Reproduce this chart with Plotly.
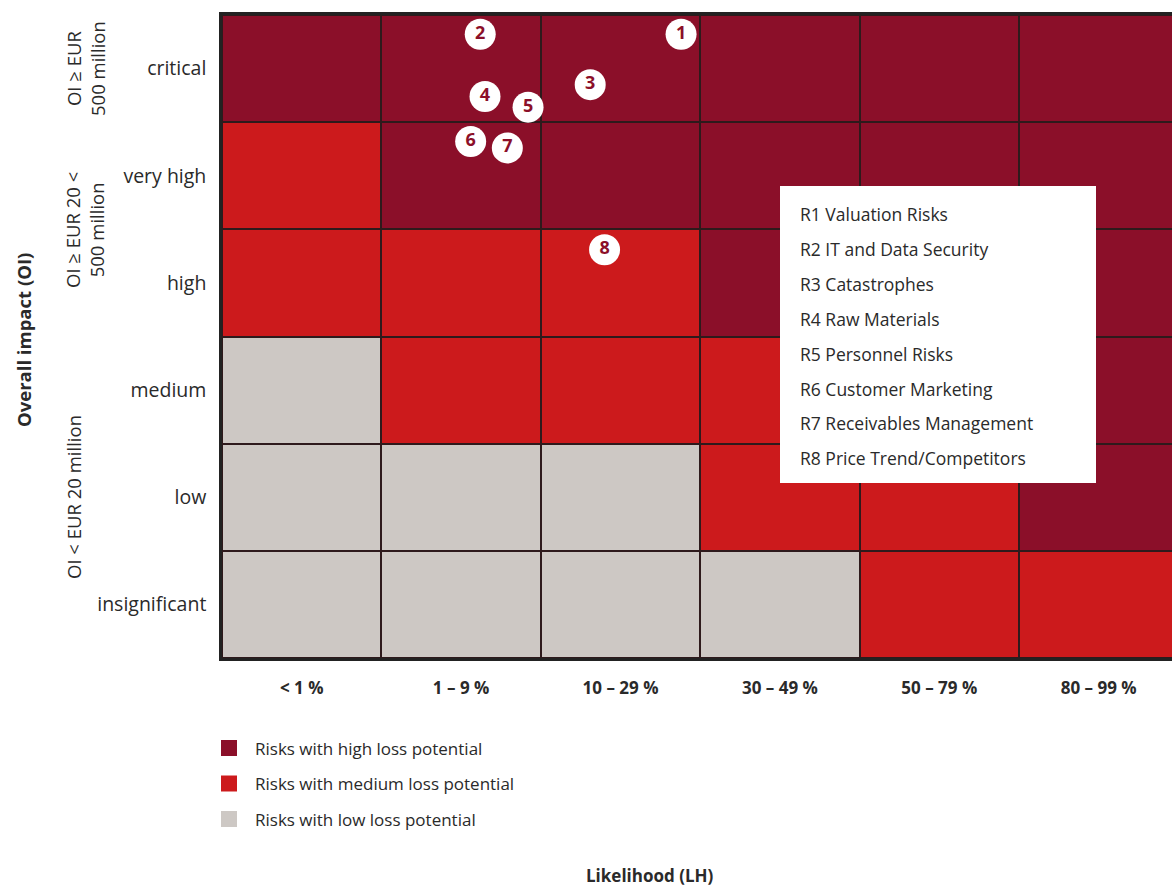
import plotly.graph_objects as go

# ---- data ---------------------------------------------------------------
likelihood_labels = ["< 1 %", "1 – 9 %", "10 – 29 %", "30 – 49 %", "50 – 79 %", "80 – 99 %"]
impact_labels = ["insignificant", "low", "medium", "high", "very high", "critical"]

# loss-potential class per cell (rows: insignificant -> critical), 0=low, 1=medium, 2=high
loss_class = [
    [0, 0, 0, 0, 1, 1],
    [0, 0, 0, 1, 1, 2],
    [0, 1, 1, 1, 2, 2],
    [1, 1, 1, 2, 2, 2],
    [1, 2, 2, 2, 2, 2],
    [2, 2, 2, 2, 2, 2],
]

risk_ids = ["1", "2", "3", "4", "5", "6", "7", "8"]
risk_lh = [2.38, 1.12, 1.81, 1.15, 1.42, 1.06, 1.29, 1.90]
risk_oi = [5.32, 5.32, 4.85, 4.74, 4.64, 4.32, 4.26, 3.31]
risk_names = [
    "R1 Valuation Risks",
    "R2 IT and Data Security",
    "R3 Catastrophes",
    "R4 Raw Materials",
    "R5 Personnel Risks",
    "R6 Customer Marketing",
    "R7 Receivables Management",
    "R8 Price Trend/Competitors",
]

class_names = [
    "Risks with high loss potential",
    "Risks with medium loss potential",
    "Risks with low loss potential",
]

# ---- styling ------------------------------------------------------------
GRAY = "#cdc8c4"
RED = "#cc1a1c"
DARK = "#8b0f29"
class_colors = [DARK, RED, GRAY]
FONT = "Open Sans"
TXT = "#2a2a2a"

W, H = 1172, 886
L, T, R, B = 222, 15, 0, 228
PW, PH = W - L - R, H - T - B


def px(x):
    return (x - L) / PW


def py(y):
    return (T + PH - y) / PH


fig = go.Figure()

fig.add_trace(go.Heatmap(
    z=loss_class,
    x=list(range(len(likelihood_labels))),
    y=list(range(len(impact_labels))),
    colorscale=[[0, GRAY], [0.5, RED], [1, DARK]],
    zmin=0, zmax=2,
    showscale=False,
    xgap=2, ygap=2,
    hoverinfo="skip",
))

fig.add_trace(go.Scatter(
    x=risk_lh, y=risk_oi,
    mode="markers+text",
    text=risk_ids,
    textposition="middle center",
    textfont=dict(family=FONT, size=18, color=DARK, weight="bold"),
    marker=dict(size=31, color="white", line=dict(width=0)),
    showlegend=False,
    hoverinfo="skip",
))

shapes = []
annotations = []

# risk key box
shapes.append(dict(type="rect", xref="paper", yref="paper",
                   x0=px(780), x1=px(1096), y0=py(483), y1=py(186),
                   fillcolor="white", line=dict(width=0), layer="above"))
for i, name in enumerate(risk_names):
    annotations.append(dict(xref="paper", yref="paper", x=px(798), y=py(214 + i * 34.9),
                            text=name, showarrow=False, xanchor="left", yanchor="middle",
                            font=dict(family=FONT, size=17.5, color=TXT)))

# loss potential key
for i, (name, col) in enumerate(zip(class_names, class_colors)):
    yc = 748 + i * 35.5
    shapes.append(dict(type="rect", xref="paper", yref="paper",
                       x0=px(221), x1=px(237), y0=py(yc + 8), y1=py(yc - 8),
                       fillcolor=col, line=dict(width=0)))
    annotations.append(dict(xref="paper", yref="paper", x=px(253), y=py(yc),
                            text=name, showarrow=False, xanchor="left", yanchor="middle",
                            font=dict(family=FONT, size=17, color=TXT)))

# impact band labels
bands = [
    ("OI ≥ EUR<br>500 million", 85, 69),
    ("OI ≥ EUR 20 <<br>500 million", 85, 230),
    ("OI < EUR 20 million", 73, 497),
]
for text, x, y in bands:
    annotations.append(dict(xref="paper", yref="paper", x=px(x), y=py(y), text=text,
                            textangle=-90, showarrow=False, xanchor="center", yanchor="middle",
                            font=dict(family=FONT, size=18.5, color=TXT)))

annotations.append(dict(xref="paper", yref="paper", x=px(23), y=py(340),
                        text="<b>Overall impact (OI)</b>", textangle=-90, showarrow=False,
                        xanchor="center", yanchor="middle",
                        font=dict(family=FONT, size=18.5, color=TXT)))
annotations.append(dict(xref="paper", yref="paper", x=px(650), y=py(876),
                        text="<b>Likelihood (LH)</b>", showarrow=False,
                        xanchor="center", yanchor="middle",
                        font=dict(family=FONT, size=17, color=TXT)))

fig.update_layout(
    width=W, height=H,
    margin=dict(l=L, r=R, t=T, b=B, pad=0),
    paper_bgcolor="white",
    plot_bgcolor="#2e1a1c",
    shapes=shapes,
    annotations=annotations,
    showlegend=False,
    xaxis=dict(
        range=[-0.5, -0.5 + PW / 159.4],
        tickvals=list(range(len(likelihood_labels))),
        ticktext=[f"<b>{t}</b>" for t in likelihood_labels],
        tickfont=dict(family=FONT, size=17, color=TXT),
        showgrid=False, zeroline=False,
        showline=True, linewidth=2.5, linecolor="#222222", mirror=True,
        ticks="", ticklabelstandoff=13,
        fixedrange=True,
    ),
    yaxis=dict(
        range=[-0.5, 5.5],
        tickvals=list(range(len(impact_labels))),
        ticktext=impact_labels,
        tickfont=dict(family=FONT, size=19.5, color=TXT),
        showgrid=False, zeroline=False,
        showline=True, linewidth=2.5, linecolor="#222222",
        ticks="", ticklabelstandoff=9,
        fixedrange=True,
    ),
)

fig.write_html("out.html")
